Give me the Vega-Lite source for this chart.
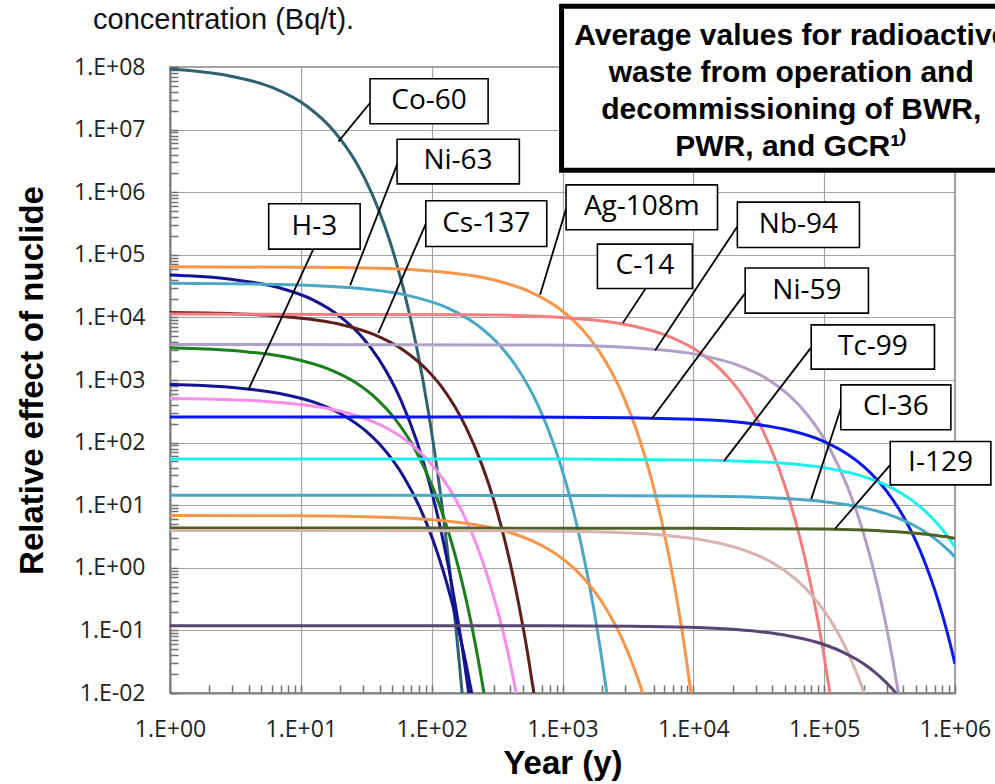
{
"$schema": "https://vega.github.io/schema/vega-lite/v6.json",
"width": 785, "height": 626,
"autosize": {"type": "none"},
"padding": {"left": 170, "top": 67, "right": 40, "bottom": 91},
"background": "white",
"config": {"view": {"stroke": "#858585", "strokeWidth": 1.5}},
"title": {"text": "concentration (Bq/t).", "anchor": "start", "frame": "group", "dx": -77, "offset": -54, "baseline": "alphabetic", "font": "Liberation Sans", "fontSize": 29, "fontWeight": "normal", "color": "#111"},
"datasets": {
"curves": [
{"n":"Co-60","t":1,"v":9.29e7},{"n":"Co-60","t":1.34,"v":8.87e7},{"n":"Co-60","t":2.7,"v":7.38e7},{"n":"Co-60","t":6.1,"v":4.67e7},{"n":"Co-60","t":11.2,"v":2.34e7},{"n":"Co-60","t":18,"v":9.35e6},{"n":"Co-60","t":26.5,"v":2.97e6},{"n":"Co-60","t":35,"v":9.42e5},{"n":"Co-60","t":52,"v":9.5e4},{"n":"Co-60","t":69,"v":9570},{"n":"Co-60","t":86,"v":964},{"n":"Co-60","t":103,"v":97.1},{"n":"Co-60","t":120,"v":9.77},{"n":"Co-60","t":137,"v":0.986},{"n":"Co-60","t":154,"v":0.0993},{"n":"Co-60","t":171,"v":0.01},{"n":"Co-60","t":177.8,"v":0.00399},
{"n":"Eu-154","t":1,"v":47500},{"n":"Eu-154","t":1.38,"v":46100},{"n":"Eu-154","t":2.91,"v":40700},{"n":"Eu-154","t":6.73,"v":30000},{"n":"Eu-154","t":12.5,"v":18900},{"n":"Eu-154","t":20.1,"v":10200},{"n":"Eu-154","t":29.7,"v":4730},{"n":"Eu-154","t":39.2,"v":2200},{"n":"Eu-154","t":58.3,"v":472},{"n":"Eu-154","t":77.4,"v":101},{"n":"Eu-154","t":96.5,"v":21.8},{"n":"Eu-154","t":115.6,"v":4.69},{"n":"Eu-154","t":134.7,"v":1.01},{"n":"Eu-154","t":153.8,"v":0.216},{"n":"Eu-154","t":172.9,"v":0.0466},{"n":"Eu-154","t":192,"v":0.01},{"n":"Eu-154","t":199.6,"v":0.0054},
{"n":"H-3","t":1,"v":851},{"n":"H-3","t":1.4,"v":832},{"n":"H-3","t":3.01,"v":760},{"n":"H-3","t":7.03,"v":605},{"n":"H-3","t":13.1,"v":431},{"n":"H-3","t":21.1,"v":274},{"n":"H-3","t":31.2,"v":155},{"n":"H-3","t":41.2,"v":87.9},{"n":"H-3","t":61.3,"v":28.2},{"n":"H-3","t":81.4,"v":9.08},{"n":"H-3","t":101.5,"v":2.92},{"n":"H-3","t":121.6,"v":0.938},{"n":"H-3","t":141.7,"v":0.301},{"n":"H-3","t":161.8,"v":0.0968},{"n":"H-3","t":181.9,"v":0.0311},{"n":"H-3","t":202,"v":0.01},{"n":"H-3","t":210,"v":0.00635},
{"n":"Ni-63","t":1,"v":35000},{"n":"Ni-63","t":5.36,"v":34000},{"n":"Ni-63","t":22.8,"v":30100},{"n":"Ni-63","t":66.4,"v":22300},{"n":"Ni-63","t":132,"v":14200},{"n":"Ni-63","t":219,"v":7760},{"n":"Ni-63","t":328,"v":3650},{"n":"Ni-63","t":437,"v":1720},{"n":"Ni-63","t":655,"v":381},{"n":"Ni-63","t":873,"v":84.3},{"n":"Ni-63","t":1091,"v":18.7},{"n":"Ni-63","t":1308,"v":4.15},{"n":"Ni-63","t":1526,"v":0.918},{"n":"Ni-63","t":1744,"v":0.204},{"n":"Ni-63","t":1962,"v":0.0451},{"n":"Ni-63","t":2180,"v":0.01},{"n":"Ni-63","t":2267,"v":0.00547},
{"n":"Cs-137","t":1,"v":12000},{"n":"Cs-137","t":2.21,"v":11700},{"n":"Cs-137","t":7.03,"v":10400},{"n":"Cs-137","t":19.1,"v":7900},{"n":"Cs-137","t":37.2,"v":5190},{"n":"Cs-137","t":61.3,"v":2960},{"n":"Cs-137","t":91.5,"v":1470},{"n":"Cs-137","t":122,"v":731},{"n":"Cs-137","t":182,"v":180},{"n":"Cs-137","t":242,"v":44.5},{"n":"Cs-137","t":302.5,"v":11},{"n":"Cs-137","t":363,"v":2.7},{"n":"Cs-137","t":423,"v":0.667},{"n":"Cs-137","t":483,"v":0.164},{"n":"Cs-137","t":544,"v":0.0406},{"n":"Cs-137","t":604,"v":0.01},{"n":"Cs-137","t":628,"v":0.00571},
{"n":"Eu-152","t":1,"v":3270},{"n":"Eu-152","t":1.5,"v":3180},{"n":"Eu-152","t":3.5,"v":2880},{"n":"Eu-152","t":8.5,"v":2230},{"n":"Eu-152","t":16,"v":1520},{"n":"Eu-152","t":26,"v":918},{"n":"Eu-152","t":38.5,"v":486},{"n":"Eu-152","t":51,"v":258},{"n":"Eu-152","t":76,"v":72.4},{"n":"Eu-152","t":101,"v":20.3},{"n":"Eu-152","t":126,"v":5.71},{"n":"Eu-152","t":151,"v":1.61},{"n":"Eu-152","t":176,"v":0.451},{"n":"Eu-152","t":201,"v":0.127},{"n":"Eu-152","t":226,"v":0.0356},{"n":"Eu-152","t":251,"v":0.01},{"n":"Eu-152","t":261,"v":0.00601},
{"n":"Sr-90","t":1,"v":506},{"n":"Sr-90","t":1.88,"v":495},{"n":"Sr-90","t":5.42,"v":454},{"n":"Sr-90","t":14.3,"v":366},{"n":"Sr-90","t":27.5,"v":264},{"n":"Sr-90","t":45.2,"v":171},{"n":"Sr-90","t":67.3,"v":99.5},{"n":"Sr-90","t":89.4,"v":57.9},{"n":"Sr-90","t":134,"v":19.6},{"n":"Sr-90","t":178,"v":6.64},{"n":"Sr-90","t":222,"v":2.25},{"n":"Sr-90","t":266,"v":0.762},{"n":"Sr-90","t":310,"v":0.258},{"n":"Sr-90","t":355,"v":0.0873},{"n":"Sr-90","t":399,"v":0.0295},{"n":"Sr-90","t":443,"v":0.01},{"n":"Sr-90","t":461,"v":0.00649},
{"n":"Ag-108m","t":1,"v":64600},{"n":"Ag-108m","t":20.2,"v":62500},{"n":"Ag-108m","t":97,"v":55200},{"n":"Ag-108m","t":289,"v":40400},{"n":"Ag-108m","t":577,"v":25200},{"n":"Ag-108m","t":961,"v":13500},{"n":"Ag-108m","t":1441,"v":6150},{"n":"Ag-108m","t":1921,"v":2810},{"n":"Ag-108m","t":2881,"v":585},{"n":"Ag-108m","t":3841,"v":122},{"n":"Ag-108m","t":4801,"v":25.4},{"n":"Ag-108m","t":5760,"v":5.3},{"n":"Ag-108m","t":6720,"v":1.1},{"n":"Ag-108m","t":7680,"v":0.23},{"n":"Ag-108m","t":8640,"v":0.048},{"n":"Ag-108m","t":9600,"v":0.01},{"n":"Ag-108m","t":9984,"v":0.00535},
{"n":"Am-241","t":1,"v":6.87},{"n":"Am-241","t":9.2,"v":6.78},{"n":"Am-241","t":42,"v":6.44},{"n":"Am-241","t":124,"v":5.65},{"n":"Am-241","t":247,"v":4.65},{"n":"Am-241","t":411,"v":3.57},{"n":"Am-241","t":616,"v":2.58},{"n":"Am-241","t":821,"v":1.86},{"n":"Am-241","t":1231,"v":0.968},{"n":"Am-241","t":1641,"v":0.504},{"n":"Am-241","t":2051,"v":0.262},{"n":"Am-241","t":2460,"v":0.136},{"n":"Am-241","t":2870,"v":0.071},{"n":"Am-241","t":3280,"v":0.0369},{"n":"Am-241","t":3690,"v":0.0192},{"n":"Am-241","t":4100,"v":0.01},{"n":"Am-241","t":4264,"v":0.0077},
{"n":"C-14","t":1,"v":11300},{"n":"C-14","t":222,"v":11000},{"n":"C-14","t":1107,"v":9820},{"n":"C-14","t":3319,"v":7430},{"n":"C-14","t":6637,"v":4900},{"n":"C-14","t":11061,"v":2810},{"n":"C-14","t":16591,"v":1400},{"n":"C-14","t":22121,"v":695},{"n":"C-14","t":33181,"v":173},{"n":"C-14","t":44241,"v":42.9},{"n":"C-14","t":55301,"v":10.6},{"n":"C-14","t":66361,"v":2.64},{"n":"C-14","t":77421,"v":0.655},{"n":"C-14","t":88481,"v":0.163},{"n":"C-14","t":99541,"v":0.0403},{"n":"C-14","t":110600,"v":0.01},{"n":"C-14","t":115024,"v":0.00573},
{"n":"Nb-94","t":1,"v":3700},{"n":"Nb-94","t":739,"v":3610},{"n":"Nb-94","t":3691,"v":3250},{"n":"Nb-94","t":11071,"v":2520},{"n":"Nb-94","t":22141,"v":1710},{"n":"Nb-94","t":36901,"v":1030},{"n":"Nb-94","t":55351,"v":541},{"n":"Nb-94","t":73801,"v":284},{"n":"Nb-94","t":110701,"v":79.1},{"n":"Nb-94","t":147601,"v":21.9},{"n":"Nb-94","t":184501,"v":6.08},{"n":"Nb-94","t":221401,"v":1.69},{"n":"Nb-94","t":258301,"v":0.468},{"n":"Nb-94","t":295201,"v":0.13},{"n":"Nb-94","t":332101,"v":0.0361},{"n":"Nb-94","t":369000,"v":0.01},{"n":"Nb-94","t":383760,"v":0.00598},
{"n":"Ni-59","t":1,"v":257},{"n":"Ni-59","t":1000,"v":255},{"n":"Ni-59","t":10000,"v":235},{"n":"Ni-59","t":30000,"v":196},{"n":"Ni-59","t":50000,"v":163},{"n":"Ni-59","t":100000,"v":104},{"n":"Ni-59","t":150000,"v":65.8},{"n":"Ni-59","t":200000,"v":41.8},{"n":"Ni-59","t":300000,"v":16.8},{"n":"Ni-59","t":400000,"v":6.79},{"n":"Ni-59","t":500000,"v":2.74},{"n":"Ni-59","t":600000,"v":1.1},{"n":"Ni-59","t":700000,"v":0.444},{"n":"Ni-59","t":800000,"v":0.179},{"n":"Ni-59","t":900000,"v":0.0723},{"n":"Ni-59","t":1000000,"v":0.0291},
{"n":"Tc-99","t":1,"v":54.7},{"n":"Tc-99","t":1000,"v":54.6},{"n":"Tc-99","t":10000,"v":52.9},{"n":"Tc-99","t":30000,"v":49.6},{"n":"Tc-99","t":50000,"v":46.6},{"n":"Tc-99","t":100000,"v":39.5},{"n":"Tc-99","t":200000,"v":28.6},{"n":"Tc-99","t":300000,"v":20.7},{"n":"Tc-99","t":400000,"v":15},{"n":"Tc-99","t":500000,"v":10.8},{"n":"Tc-99","t":600000,"v":7.82},{"n":"Tc-99","t":700000,"v":5.65},{"n":"Tc-99","t":800000,"v":4.09},{"n":"Tc-99","t":900000,"v":2.96},{"n":"Tc-99","t":1000000,"v":2.14},
{"n":"Cl-36","t":1,"v":14.4},{"n":"Cl-36","t":1000,"v":14.3},{"n":"Cl-36","t":10000,"v":14},{"n":"Cl-36","t":30000,"v":13.4},{"n":"Cl-36","t":50000,"v":12.8},{"n":"Cl-36","t":100000,"v":11.4},{"n":"Cl-36","t":200000,"v":9.12},{"n":"Cl-36","t":300000,"v":7.26},{"n":"Cl-36","t":400000,"v":5.78},{"n":"Cl-36","t":500000,"v":4.61},{"n":"Cl-36","t":600000,"v":3.67},{"n":"Cl-36","t":700000,"v":2.92},{"n":"Cl-36","t":800000,"v":2.33},{"n":"Cl-36","t":900000,"v":1.86},{"n":"Cl-36","t":1000000,"v":1.48},
{"n":"I-129","t":1,"v":4.31},{"n":"I-129","t":10000,"v":4.29},{"n":"I-129","t":100000,"v":4.15},{"n":"I-129","t":200000,"v":4},{"n":"I-129","t":300000,"v":3.85},{"n":"I-129","t":400000,"v":3.71},{"n":"I-129","t":500000,"v":3.57},{"n":"I-129","t":600000,"v":3.44},{"n":"I-129","t":700000,"v":3.32},{"n":"I-129","t":800000,"v":3.19},{"n":"I-129","t":900000,"v":3.08},{"n":"I-129","t":1000000,"v":2.96},
{"n":"Pu-239","t":1,"v":3.95},{"n":"Pu-239","t":405,"v":3.91},{"n":"Pu-239","t":2021,"v":3.72},{"n":"Pu-239","t":6061,"v":3.3},{"n":"Pu-239","t":12121,"v":2.76},{"n":"Pu-239","t":20201,"v":2.17},{"n":"Pu-239","t":30301,"v":1.61},{"n":"Pu-239","t":40401,"v":1.2},{"n":"Pu-239","t":60601,"v":0.658},{"n":"Pu-239","t":80801,"v":0.361},{"n":"Pu-239","t":101001,"v":0.199},{"n":"Pu-239","t":121201,"v":0.109},{"n":"Pu-239","t":141401,"v":0.0601},{"n":"Pu-239","t":161601,"v":0.033},{"n":"Pu-239","t":181801,"v":0.0182},{"n":"Pu-239","t":202000,"v":0.01},{"n":"Pu-239","t":210080,"v":0.00787},
{"n":"Ca-41","t":1,"v":0.119},{"n":"Ca-41","t":707,"v":0.119},{"n":"Ca-41","t":3531,"v":0.116},{"n":"Ca-41","t":10591,"v":0.111},{"n":"Ca-41","t":21181,"v":0.103},{"n":"Ca-41","t":35301,"v":0.0931},{"n":"Ca-41","t":52951,"v":0.0822},{"n":"Ca-41","t":70601,"v":0.0727},{"n":"Ca-41","t":105901,"v":0.0568},{"n":"Ca-41","t":141201,"v":0.0443},{"n":"Ca-41","t":176501,"v":0.0345},{"n":"Ca-41","t":211801,"v":0.027},{"n":"Ca-41","t":247101,"v":0.021},{"n":"Ca-41","t":282401,"v":0.0164},{"n":"Ca-41","t":317701,"v":0.0128},{"n":"Ca-41","t":353000,"v":0.01},{"n":"Ca-41","t":367120,"v":0.00906}
],
"labels": [
{"name":"Co-60","bx1":33.8,"bx2":270,"by1":6.5e7,"by2":1.24e7,"cx":95.5,"cy":2.84e7,"lx1":33.8,"ly1":2.66e7,"lx2":19.4,"ly2":6.47e6},
{"name":"Ni-63","bx1":54.4,"bx2":468,"by1":7.0e6,"by2":1.36e6,"cx":159,"cy":3.1e6,"lx1":54.9,"ly1":2.92e6,"lx2":23.8,"ly2":32400},
{"name":"H-3","bx1":5.68,"bx2":28.4,"by1":653000,"by2":123000,"cx":12.7,"cy":283000,"lx1":12.46,"ly1":123000,"lx2":3.97,"ly2":697},
{"name":"Cs-137","bx1":90.2,"bx2":758,"by1":730000,"by2":136000,"cx":261,"cy":315000,"lx1":90.2,"ly1":313000,"lx2":39.1,"ly2":5600},
{"name":"Ag-108m","bx1":1065,"bx2":15300,"by1":1.31e6,"by2":251000,"cx":4040,"cy":574000,"lx1":1079,"ly1":592000,"lx2":674,"ly2":23000},
{"name":"Nb-94","bx1":21700,"bx2":186000,"by1":695000,"by2":131000,"cx":63600,"cy":302000,"lx1":21700,"ly1":283000,"lx2":5100,"ly2":2960},
{"name":"C-14","bx1":1849,"bx2":9840,"by1":148000,"by2":29000,"cx":4265,"cy":65500,"lx1":4318,"ly1":29000,"lx2":2890,"ly2":8100},
{"name":"Ni-59","bx1":24900,"bx2":218000,"by1":61400,"by2":11700,"cx":73800,"cy":26800,"lx1":24900,"ly1":24400,"lx2":4817,"ly2":240},
{"name":"Tc-99","bx1":79600,"bx2":697000,"by1":7600,"by2":1490,"cx":236000,"cy":3360,"lx1":78800,"ly1":3230,"lx2":17200,"ly2":51},
{"name":"Cl-36","bx1":134000,"bx2":930000,"by1":836,"by2":160,"cx":353000,"cy":366,"lx1":134000,"ly1":355,"lx2":79600,"ly2":12.5},
{"name":"I-129","bx1":320000,"bx2":1880000,"by1":104,"by2":21.1,"cx":775000,"cy":46.9,"lx1":320000,"ly1":44,"lx2":121000,"ly2":4.2}
],
"note": [
{"x1":984,"x2":3760000,"y1":9.38e8,"y2":2.24e6,"cx":56000,"cy":5.43e8,"text":"Average values for radioactive\nwaste from operation and\ndecommissioning of BWR,\nPWR, and GCR¹⁾"}
]
},
"layer": [
{
"data": {"name": "curves"},
"mark": {"type": "line", "clip": true, "strokeWidth": 3, "interpolate": "monotone"},
"encoding": {
"x": {"field": "t", "type": "quantitative", "scale": {"type": "log", "domain": [1, 1000000], "nice": false},
 "axis": {"title": "Year (y)", "values": [1,2,3,4,5,6,7,8,9,10,20,30,40,50,60,70,80,90,100,200,300,400,500,600,700,800,900,1000,2000,3000,4000,5000,6000,7000,8000,9000,10000,20000,30000,40000,50000,60000,70000,80000,90000,100000,200000,300000,400000,500000,600000,700000,800000,900000,1000000],
 "labelExpr": "abs(log(datum.value)/LN10 - round(log(datum.value)/LN10)) < 0.0001 ? ('1.E' + (round(log(datum.value)/LN10) < 0 ? '-' : '+') + (abs(round(log(datum.value)/LN10)) < 10 ? '0' : '') + abs(round(log(datum.value)/LN10))) : ''",
 "grid": true, "gridColor": "#a3a3a3", "gridWidth": 1.2,
 "gridOpacity": {"condition": {"test": "abs(log(datum.value)/LN10 - round(log(datum.value)/LN10)) < 0.0001", "value": 1}, "value": 0},
 "ticks": true, "tickOpacity": 1, "tickSize": -8, "tickColor": "#707070", "tickWidth": 1.5, "domainColor": "#808080", "domainWidth": 2,
 "labelFont": "Open Sans", "labelFontSize": 23, "labelColor": "#222", "labelPadding": 33, "labelOverlap": false, "labelFlush": false, "labelBound": false,
 "titleFont": "Liberation Sans", "titleFontSize": 33, "titleFontWeight": "bold", "titleColor": "#000", "titlePadding": 6}},
"y": {"field": "v", "type": "quantitative", "scale": {"type": "log", "domain": [0.01, 100000000], "nice": false},
 "axis": {"title": "Relative effect of nuclide", "values": [0.01,0.02,0.03,0.04,0.05,0.06,0.07,0.08,0.09,0.1,0.2,0.3,0.4,0.5,0.6,0.7,0.8,0.9,1,2,3,4,5,6,7,8,9,10,20,30,40,50,60,70,80,90,100,200,300,400,500,600,700,800,900,1000,2000,3000,4000,5000,6000,7000,8000,9000,10000,20000,30000,40000,50000,60000,70000,80000,90000,100000,200000,300000,400000,500000,600000,700000,800000,900000,1000000,2000000,3000000,4000000,5000000,6000000,7000000,8000000,9000000,10000000,20000000,30000000,40000000,50000000,60000000,70000000,80000000,90000000,100000000],
 "labelExpr": "abs(log(datum.value)/LN10 - round(log(datum.value)/LN10)) < 0.0001 ? ('1.E' + (round(log(datum.value)/LN10) < 0 ? '-' : '+') + (abs(round(log(datum.value)/LN10)) < 10 ? '0' : '') + abs(round(log(datum.value)/LN10))) : ''",
 "grid": true, "gridColor": "#a3a3a3", "gridWidth": 1.2,
 "gridOpacity": {"condition": {"test": "abs(log(datum.value)/LN10 - round(log(datum.value)/LN10)) < 0.0001", "value": 1}, "value": 0},
 "ticks": true, "tickOpacity": 1, "tickSize": -8, "tickColor": "#707070", "tickWidth": 1.5, "domainColor": "#808080", "domainWidth": 2,
 "labelFont": "Open Sans", "labelFontSize": 23, "labelColor": "#222", "labelPadding": 33, "labelOverlap": false, "labelFlush": false, "labelBound": false,
 "titleFont": "Liberation Sans", "titleFontSize": 33, "titleFontWeight": "bold", "titleColor": "#000", "titlePadding": 24}},
"color": {"field": "n", "type": "nominal", "legend": null,
 "scale": {"domain": ["Co-60","Eu-154","H-3","Ni-63","Cs-137","Eu-152","Sr-90","Ag-108m","Am-241","C-14","Nb-94","Ni-59","Tc-99","Cl-36","I-129","Pu-239","Ca-41"],
 "range": ["#2f6270","#141493","#141493","#4ba8c4","#5e1f1c","#1b7f1b","#f78dea","#f7964a","#f7964a","#f27e80","#b0a0c8","#0a18ee","#1ef0f0","#4ba8c4","#4e6126","#d8b4b0","#574672"]}}
}
},
{
"data": {"name": "labels"},
"mark": {"type": "rule", "color": "#000", "strokeWidth": 1.8},
"encoding": {
"x": {"field": "lx1", "type": "quantitative", "scale": {"type": "log", "domain": [1, 1000000], "nice": false}, "axis": {"title": "Year (y)"}},
"y": {"field": "ly1", "type": "quantitative", "scale": {"type": "log", "domain": [0.01, 100000000], "nice": false}, "axis": {"title": "Relative effect of nuclide"}},
"x2": {"field": "lx2"}, "y2": {"field": "ly2"}
}
},
{
"data": {"name": "labels"},
"mark": {"type": "rect", "fill": "#fff", "stroke": "#000", "strokeWidth": 1.6},
"encoding": {
"x": {"field": "bx1", "type": "quantitative", "scale": {"type": "log", "domain": [1, 1000000], "nice": false}, "axis": {"title": "Year (y)"}},
"y": {"field": "by1", "type": "quantitative", "scale": {"type": "log", "domain": [0.01, 100000000], "nice": false}, "axis": {"title": "Relative effect of nuclide"}},
"x2": {"field": "bx2"}, "y2": {"field": "by2"}
}
},
{
"data": {"name": "labels"},
"mark": {"type": "text", "font": "Open Sans", "fontSize": 28, "color": "#000", "align": "center", "baseline": "middle"},
"encoding": {
"x": {"field": "cx", "type": "quantitative", "scale": {"type": "log", "domain": [1, 1000000], "nice": false}, "axis": {"title": "Year (y)"}},
"y": {"field": "cy", "type": "quantitative", "scale": {"type": "log", "domain": [0.01, 100000000], "nice": false}, "axis": {"title": "Relative effect of nuclide"}},
"text": {"field": "name"}
}
},
{
"data": {"name": "note"},
"mark": {"type": "rect", "fill": "#fff", "stroke": "#000", "strokeWidth": 5},
"encoding": {
"x": {"field": "x1", "type": "quantitative", "scale": {"type": "log", "domain": [1, 1000000], "nice": false}, "axis": {"title": "Year (y)"}},
"y": {"field": "y1", "type": "quantitative", "scale": {"type": "log", "domain": [0.01, 100000000], "nice": false}, "axis": {"title": "Relative effect of nuclide"}},
"x2": {"field": "x2"}, "y2": {"field": "y2"}
}
},
{
"data": {"name": "note"},
"mark": {"type": "text", "font": "Liberation Sans", "fontSize": 30, "fontWeight": "bold", "color": "#000", "align": "center", "baseline": "top", "lineBreak": "\n", "lineHeight": 37},
"encoding": {
"x": {"field": "cx", "type": "quantitative", "scale": {"type": "log", "domain": [1, 1000000], "nice": false}, "axis": {"title": "Year (y)"}},
"y": {"field": "cy", "type": "quantitative", "scale": {"type": "log", "domain": [0.01, 100000000], "nice": false}, "axis": {"title": "Relative effect of nuclide"}},
"text": {"field": "text"}
}
}
]
}
